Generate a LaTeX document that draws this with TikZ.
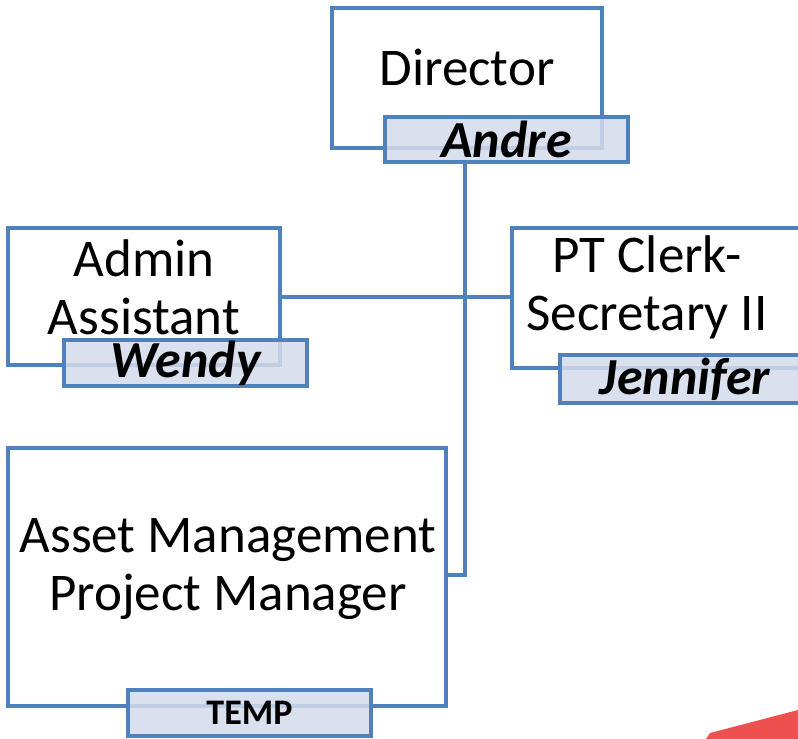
\documentclass[tikz,border=0pt]{standalone}
\usepackage{fontspec}
\setmainfont{Carlito}
\definecolor{boxblue}{RGB}{79,129,189}
\definecolor{namefill}{RGB}{212,219,234}
\definecolor{redshape}{RGB}{238,80,80}
\begin{document}
\begin{tikzpicture}[x=1pt,y=-1pt,
  bigbox/.style={draw=boxblue,line width=4pt,fill=white,rectangle,inner sep=0pt},
  namebox/.style={draw=boxblue,line width=4pt,fill=namefill,fill opacity=0.85,text opacity=1,rectangle,inner sep=0pt,
    font=\fontsize{52}{58}\selectfont\bfseries\itshape},
  title/.style={font=\fontsize{53}{58}\selectfont,align=center,inner sep=0pt},
  conn/.style={draw=boxblue,line width=4pt}]
\useasboundingbox (0,0) rectangle (798,739);
\fill[white] (0,0) rectangle (798,739);
% red shape bottom right
\fill[redshape] (710,733) -- (798,710) -- (798,739) -- (706,739) -- cycle;
% big boxes
\node[bigbox,minimum width=270pt,minimum height=140pt] (dir) at (467,78) {};
\node[bigbox,minimum width=272pt,minimum height=137pt] (adm) at (144,296.5) {};
\node[bigbox,minimum width=290pt,minimum height=140pt] (pt) at (657,298) {};
\node[bigbox,minimum width=438pt,minimum height=258pt] (asset) at (227,577) {};
% connectors
\coordinate (bend) at (465,575);
\draw[conn] (465,162) -- (bend) -- (asset.east |- bend);
\draw[conn] (adm.east |- 0,297) -- (pt.west |- 0,297);
% titles
\node[title] (tdir) at (467,67) {Director};
\node[title] (tadm) at (144,287) {Admin\\Assistant};
\node[title] (tpt) at (647,287) {PT Clerk-\\Secretary II};
\node[title] (tasset) at (228,569) {Asset Management\\Project Manager};
% name boxes
\node[namebox,minimum width=243pt,minimum height=45pt] (andre) at (506.5,139.5) {Andre};
\node[namebox,minimum width=243pt,minimum height=46pt] (wendy) at (185.5,363) {Wendy};
\node[namebox,minimum width=250pt,minimum height=48pt] (jen) at (685,379) {Jennifer};
\node[namebox,minimum width=243pt,minimum height=46pt,font=\fontsize{36}{40}\selectfont\bfseries] (temp) at (249.5,713) {TEMP};
\end{tikzpicture}
\end{document}
